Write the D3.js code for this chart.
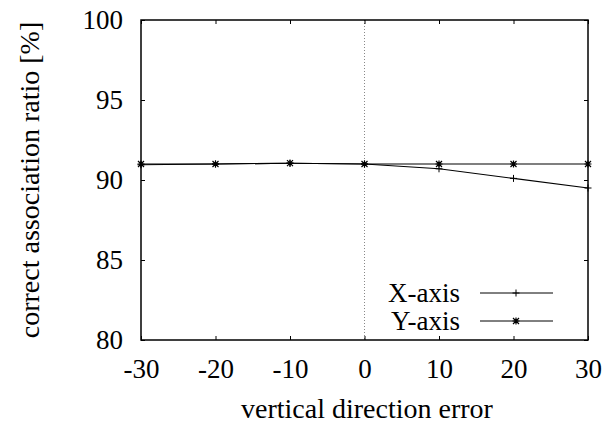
<!DOCTYPE html>
<html>
<head>
<meta charset="utf-8">
<script src="https://cdn.jsdelivr.net/npm/d3@7"></script>
<style>
  html, body { margin: 0; padding: 0; background: #fff; }
  svg { display: block; }
</style>
</head>
<body>
<svg id="chart" width="604" height="424"></svg>
<script>
// Error offsets along the x axis
const errors = [-30, -20, -10, 0, 10, 20, 30];
// Correct association ratio (%) per axis
const xAxisRatio = [90.95, 91.0, 91.05, 91.0, 90.7, 90.1, 89.5];
const yAxisRatio = [91.0, 91.0, 91.05, 91.0, 91.0, 91.0, 91.0];
const xTicks = [-30, -20, -10, 0, 10, 20, 30];
const yTicks = [80, 85, 90, 95, 100];
const seriesNames = ["X-axis", "Y-axis"];

const FONT = "'Liberation Serif', 'Times New Roman', Times, serif";
const FS = "27px";
const TITLE_FS = "28px";

const svg = d3.select("#chart");
const m = { left: 141, right: 588, top: 20, bottom: 340 };

const x = d3.scaleLinear().domain([-30, 30]).range([m.left, m.right]);
const y = d3.scaleLinear().domain([80, 100]).range([m.bottom, m.top]);

// zero reference line
svg.append("line")
  .attr("x1", x(0)).attr("x2", x(0))
  .attr("y1", m.top).attr("y2", m.bottom)
  .attr("stroke", "#888").attr("stroke-width", 1)
  .attr("stroke-dasharray", "1,2");

// axes with inward ticks, mirrored on top/right
const fmt = d => String(d);
const bottomAxis = d3.axisBottom(x).tickValues(xTicks).tickSize(-4).tickPadding(19).tickFormat(fmt);
const topAxis = d3.axisTop(x).tickValues(xTicks).tickSize(-4).tickFormat("");
const leftAxis = d3.axisLeft(y).tickValues(yTicks).tickSize(-4).tickPadding(18).tickFormat(fmt);
const rightAxis = d3.axisRight(y).tickValues(yTicks).tickSize(-4).tickFormat("");

function style(g) {
  g.attr("font-family", null).attr("font-size", null);
  g.select(".domain").remove();
  g.selectAll(".tick line").attr("stroke", "#000").attr("stroke-width", 1);
  g.selectAll("text").style("font-family", FONT).style("font-size", FS).attr("fill", "#000");
}
svg.append("g").attr("transform", `translate(0,${m.bottom})`).call(bottomAxis).call(style);
svg.append("g").attr("transform", `translate(0,${m.top})`).call(topAxis).call(style);
svg.append("g").attr("transform", `translate(${m.left},0)`).call(leftAxis).call(style);
svg.append("g").attr("transform", `translate(${m.right},0)`).call(rightAxis).call(style);

// frame
svg.append("rect")
  .attr("x", m.left).attr("y", m.top)
  .attr("width", m.right - m.left).attr("height", m.bottom - m.top)
  .attr("fill", "none").attr("stroke", "#000").attr("stroke-width", 1.5);

// series
const line = d3.line().x((d, i) => x(errors[i])).y(d => y(d));

function plusMark(g, cx, cy) {
  g.append("path").attr("d", `M${cx - 3.5},${cy}H${cx + 3.5}M${cx},${cy - 3.5}V${cy + 3.5}`)
    .attr("stroke", "#000").attr("stroke-width", 1).attr("fill", "none");
}
function starMark(g, cx, cy) {
  g.append("path").attr("d",
    `M${cx - 3.5},${cy}H${cx + 3.5}M${cx},${cy - 3.5}V${cy + 3.5}` +
    `M${cx - 3},${cy - 3}L${cx + 3},${cy + 3}M${cx - 3},${cy + 3}L${cx + 3},${cy - 3}`)
    .attr("stroke", "#000").attr("stroke-width", 1.2).attr("fill", "none");
}

const series = [
  { name: seriesNames[0], values: xAxisRatio, mark: plusMark },
  { name: seriesNames[1], values: yAxisRatio, mark: starMark }
];

series.forEach(s => {
  svg.append("path").datum(s.values).attr("d", line)
    .attr("fill", "none").attr("stroke", "#000").attr("stroke-width", 1.1);
  const g = svg.append("g");
  s.values.forEach((v, i) => s.mark(g, x(errors[i]), y(v)));
});

function label(sel, size) {
  return sel.style("font-family", FONT).style("font-size", size || FS).attr("fill", "#000");
}

// legend
series.forEach((s, i) => {
  const ly = 293 + i * 28;
  svg.append("text").attr("x", 460).attr("y", ly + 9)
    .attr("text-anchor", "end").call(label).text(s.name);
  svg.append("line").attr("x1", 480).attr("x2", 553).attr("y1", ly).attr("y2", ly)
    .attr("stroke", "#000").attr("stroke-width", 1);
  s.mark(svg, 516, ly);
});

// axis titles
svg.append("text").attr("x", 367).attr("y", 418)
  .attr("text-anchor", "middle").call(label, TITLE_FS).text("vertical direction error");
svg.append("text")
  .attr("transform", `translate(39,${(m.top + m.bottom) / 2}) rotate(-90)`)
  .attr("text-anchor", "middle").call(label, TITLE_FS).text("correct association ratio [%]");
</script>
</body>
</html>
